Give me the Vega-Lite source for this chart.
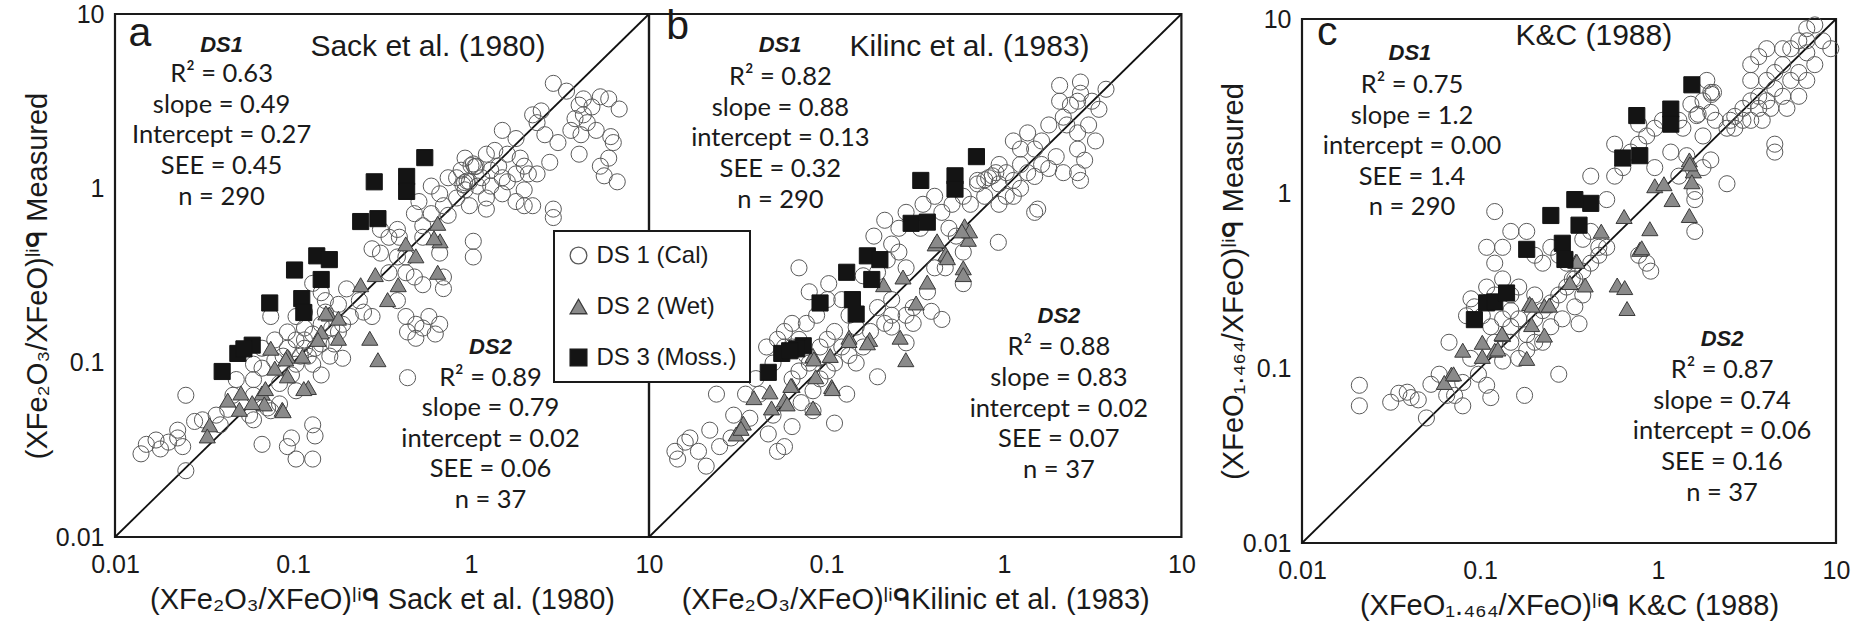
{
"$schema":"https://vega.github.io/schema/vega-lite/v6.json",
"background":"white",
"padding":{"left":22,"top":0,"right":0,"bottom":0},
"spacing":0,
"bounds":"flush",
"datasets":{
"diag":[{"x":0.01,"y":0.01},{"x":10,"y":10}],
"notes":[
{"p":"a","k":"lab","x":0.0138,"y":6.58,"t":"a"},
{"p":"a","k":"hdr","x":0.0397,"y":6.09,"t":"DS1"},
{"p":"a","k":"ttl","x":0.573,"y":5.78,"t":"Sack et al. (1980)"},
{"p":"a","k":"st","x":0.0397,"y":4.06,"t":"R² = 0.63\nslope = 0.49\nIntercept = 0.27\nSEE = 0.45\nn = 290"},
{"p":"a","k":"hdr","x":1.287,"y":0.112,"t":"DS2"},
{"p":"a","k":"st","x":1.287,"y":0.0738,"t":"R² = 0.89\nslope = 0.79\nintercept = 0.02\nSEE = 0.06\nn = 37"},
{"p":"b","k":"lab","x":0.0145,"y":7.18,"t":"b"},
{"p":"b","k":"hdr","x":0.0548,"y":6.09,"t":"DS1"},
{"p":"b","k":"ttl","x":0.64,"y":5.78,"t":"Kilinc et al. (1983)"},
{"p":"b","k":"st","x":0.055,"y":3.9,"t":"R² = 0.82\nslope = 0.88\nintercept = 0.13\nSEE = 0.32\nn = 290"},
{"p":"b","k":"hdr","x":2.04,"y":0.168,"t":"DS2"},
{"p":"b","k":"st","x":2.04,"y":0.11,"t":"R² = 0.88\nslope = 0.83\nintercept = 0.02\nSEE = 0.07\nn = 37"},
{"p":"c","k":"lab","x":0.01387,"y":7.13,"t":"c"},
{"p":"c","k":"hdr","x":0.0404,"y":5.79,"t":"DS1"},
{"p":"c","k":"ttl","x":0.436,"y":7.13,"t":"K&C (1988)"},
{"p":"c","k":"st","x":0.0415,"y":3.77,"t":"R² = 0.75\nslope = 1.2\nintercept = 0.00\nSEE = 1.4\nn = 290"},
{"p":"c","k":"hdr","x":2.29,"y":0.1336,"t":"DS2"},
{"p":"c","k":"st","x":2.29,"y":0.0879,"t":"R² = 0.87\nslope = 0.74\nintercept = 0.06\nSEE = 0.16\nn = 37"}
],
"pts":[
{"p":"a","s":"DS 1 (Cal)","x":0.014,"y":0.03},{"p":"a","s":"DS 1 (Cal)","x":0.015,"y":0.034},{"p":"a","s":"DS 1 (Cal)","x":0.017,"y":0.036},{"p":"a","s":"DS 1 (Cal)","x":0.018,"y":0.032},{"p":"a","s":"DS 1 (Cal)","x":0.02,"y":0.035},{"p":"a","s":"DS 1 (Cal)","x":0.0225,"y":0.037},{"p":"a","s":"DS 1 (Cal)","x":0.024,"y":0.033},{"p":"a","s":"DS 1 (Cal)","x":0.025,"y":0.024},{"p":"a","s":"DS 1 (Cal)","x":0.025,"y":0.065},{"p":"a","s":"DS 1 (Cal)","x":0.028,"y":0.046},{"p":"a","s":"DS 1 (Cal)","x":0.0225,"y":0.041},{"p":"a","s":"DS 1 (Cal)","x":0.031,"y":0.047},{"p":"a","s":"DS 1 (Cal)","x":0.037,"y":0.05},{"p":"a","s":"DS 1 (Cal)","x":0.039,"y":0.044},{"p":"a","s":"DS 1 (Cal)","x":0.043,"y":0.054},{"p":"a","s":"DS 1 (Cal)","x":0.046,"y":0.065},{"p":"a","s":"DS 1 (Cal)","x":0.057,"y":0.05},{"p":"a","s":"DS 1 (Cal)","x":0.06,"y":0.065},{"p":"a","s":"DS 1 (Cal)","x":0.067,"y":0.034},{"p":"a","s":"DS 1 (Cal)","x":0.098,"y":0.037},{"p":"a","s":"DS 1 (Cal)","x":0.129,"y":0.044},{"p":"a","s":"DS 1 (Cal)","x":0.133,"y":0.038},{"p":"a","s":"DS 1 (Cal)","x":0.104,"y":0.028},{"p":"a","s":"DS 1 (Cal)","x":0.093,"y":0.033},{"p":"a","s":"DS 1 (Cal)","x":0.129,"y":0.028},{"p":"a","s":"DS 1 (Cal)","x":0.072,"y":0.055},{"p":"a","s":"DS 1 (Cal)","x":0.06,"y":0.047},{"p":"a","s":"DS 1 (Cal)","x":0.075,"y":0.053},{"p":"a","s":"DS 1 (Cal)","x":0.084,"y":0.058},
{"p":"a","s":"DS 1 (Cal)","x":0.067,"y":0.121},{"p":"a","s":"DS 1 (Cal)","x":0.079,"y":0.135},{"p":"a","s":"DS 1 (Cal)","x":0.093,"y":0.15},{"p":"a","s":"DS 1 (Cal)","x":0.116,"y":0.158},{"p":"a","s":"DS 1 (Cal)","x":0.129,"y":0.285},{"p":"a","s":"DS 1 (Cal)","x":0.144,"y":0.252},{"p":"a","s":"DS 1 (Cal)","x":0.152,"y":0.227},{"p":"a","s":"DS 1 (Cal)","x":0.2,"y":0.265},{"p":"a","s":"DS 1 (Cal)","x":0.21,"y":0.184},{"p":"a","s":"DS 1 (Cal)","x":0.18,"y":0.15},{"p":"a","s":"DS 1 (Cal)","x":0.144,"y":0.128},{"p":"a","s":"DS 1 (Cal)","x":0.116,"y":0.121},{"p":"a","s":"DS 1 (Cal)","x":0.104,"y":0.098},{"p":"a","s":"DS 1 (Cal)","x":0.129,"y":0.098},{"p":"a","s":"DS 1 (Cal)","x":0.144,"y":0.085},{"p":"a","s":"DS 1 (Cal)","x":0.098,"y":0.085},{"p":"a","s":"DS 1 (Cal)","x":0.084,"y":0.076},{"p":"a","s":"DS 1 (Cal)","x":0.104,"y":0.069},{"p":"a","s":"DS 1 (Cal)","x":0.17,"y":0.128},{"p":"a","s":"DS 1 (Cal)","x":0.19,"y":0.106},{"p":"a","s":"DS 1 (Cal)","x":0.161,"y":0.109},{"p":"a","s":"DS 1 (Cal)","x":0.079,"y":0.103},{"p":"a","s":"DS 1 (Cal)","x":0.067,"y":0.093},{"p":"a","s":"DS 1 (Cal)","x":0.06,"y":0.098},{"p":"a","s":"DS 1 (Cal)","x":0.048,"y":0.08},{"p":"a","s":"DS 1 (Cal)","x":0.06,"y":0.08},{"p":"a","s":"DS 1 (Cal)","x":0.104,"y":0.135},{"p":"a","s":"DS 1 (Cal)","x":0.116,"y":0.135},{"p":"a","s":"DS 1 (Cal)","x":0.11,"y":0.109},{"p":"a","s":"DS 1 (Cal)","x":0.122,"y":0.109},{"p":"a","s":"DS 1 (Cal)","x":0.133,"y":0.121},{"p":"a","s":"DS 1 (Cal)","x":0.104,"y":0.184},{"p":"a","s":"DS 1 (Cal)","x":0.093,"y":0.121},{"p":"a","s":"DS 1 (Cal)","x":0.088,"y":0.109},{"p":"a","s":"DS 1 (Cal)","x":0.144,"y":0.166},{"p":"a","s":"DS 1 (Cal)","x":0.129,"y":0.146},{"p":"a","s":"DS 1 (Cal)","x":0.165,"y":0.158},{"p":"a","s":"DS 1 (Cal)","x":0.19,"y":0.166},{"p":"a","s":"DS 1 (Cal)","x":0.152,"y":0.195},{"p":"a","s":"DS 1 (Cal)","x":0.116,"y":0.195},{"p":"a","s":"DS 1 (Cal)","x":0.075,"y":0.184},{"p":"a","s":"DS 1 (Cal)","x":0.18,"y":0.216},{"p":"a","s":"DS 1 (Cal)","x":0.249,"y":0.195},{"p":"a","s":"DS 1 (Cal)","x":0.278,"y":0.184},{"p":"a","s":"DS 1 (Cal)","x":0.236,"y":0.227},
{"p":"a","s":"DS 1 (Cal)","x":0.386,"y":0.227},{"p":"a","s":"DS 1 (Cal)","x":0.431,"y":0.184},{"p":"a","s":"DS 1 (Cal)","x":0.49,"y":0.166},{"p":"a","s":"DS 1 (Cal)","x":0.44,"y":0.15},{"p":"a","s":"DS 1 (Cal)","x":0.536,"y":0.158},{"p":"a","s":"DS 1 (Cal)","x":0.58,"y":0.184},{"p":"a","s":"DS 1 (Cal)","x":0.667,"y":0.166},{"p":"a","s":"DS 1 (Cal)","x":0.63,"y":0.146},{"p":"a","s":"DS 1 (Cal)","x":0.49,"y":0.138},{"p":"a","s":"DS 1 (Cal)","x":0.44,"y":0.082},{"p":"a","s":"DS 1 (Cal)","x":0.481,"y":0.31},{"p":"a","s":"DS 1 (Cal)","x":0.431,"y":0.328},{"p":"a","s":"DS 1 (Cal)","x":0.536,"y":0.28},{"p":"a","s":"DS 1 (Cal)","x":0.7,"y":0.266},{"p":"a","s":"DS 1 (Cal)","x":0.431,"y":0.404},{"p":"a","s":"DS 1 (Cal)","x":0.396,"y":0.524},{"p":"a","s":"DS 1 (Cal)","x":0.536,"y":0.524},{"p":"a","s":"DS 1 (Cal)","x":0.667,"y":0.425},{"p":"a","s":"DS 1 (Cal)","x":0.7,"y":0.31},{"p":"a","s":"DS 1 (Cal)","x":1.03,"y":0.497},{"p":"a","s":"DS 1 (Cal)","x":1.03,"y":0.404},{"p":"a","s":"DS 1 (Cal)","x":0.346,"y":0.328},{"p":"a","s":"DS 1 (Cal)","x":0.31,"y":0.425},{"p":"a","s":"DS 1 (Cal)","x":0.386,"y":0.404},{"p":"a","s":"DS 1 (Cal)","x":0.278,"y":0.45},{"p":"a","s":"DS 1 (Cal)","x":0.31,"y":0.581},{"p":"a","s":"DS 1 (Cal)","x":0.386,"y":0.581},{"p":"a","s":"DS 1 (Cal)","x":0.346,"y":0.524},
{"p":"a","s":"DS 1 (Cal)","x":0.536,"y":0.61},{"p":"a","s":"DS 1 (Cal)","x":0.598,"y":0.716},{"p":"a","s":"DS 1 (Cal)","x":0.7,"y":0.795},{"p":"a","s":"DS 1 (Cal)","x":0.744,"y":0.7},{"p":"a","s":"DS 1 (Cal)","x":0.83,"y":0.88},{"p":"a","s":"DS 1 (Cal)","x":0.926,"y":0.98},{"p":"a","s":"DS 1 (Cal)","x":0.667,"y":0.93},{"p":"a","s":"DS 1 (Cal)","x":1.15,"y":1.15},{"p":"a","s":"DS 1 (Cal)","x":1.29,"y":1.27},{"p":"a","s":"DS 1 (Cal)","x":1.43,"y":1.34},{"p":"a","s":"DS 1 (Cal)","x":1.6,"y":1.09},{"p":"a","s":"DS 1 (Cal)","x":1.22,"y":1.57},{"p":"a","s":"DS 1 (Cal)","x":1.36,"y":1.65},{"p":"a","s":"DS 1 (Cal)","x":1.6,"y":1.57},{"p":"a","s":"DS 1 (Cal)","x":1.89,"y":1.49},{"p":"a","s":"DS 1 (Cal)","x":1.79,"y":1.21},{"p":"a","s":"DS 1 (Cal)","x":2.1,"y":1.21},{"p":"a","s":"DS 1 (Cal)","x":1.99,"y":0.98},{"p":"a","s":"DS 1 (Cal)","x":1.79,"y":0.84},{"p":"a","s":"DS 1 (Cal)","x":2.22,"y":0.795},{"p":"a","s":"DS 1 (Cal)","x":2.9,"y":0.76},{"p":"a","s":"DS 1 (Cal)","x":2.9,"y":0.68},{"p":"a","s":"DS 1 (Cal)","x":2.77,"y":1.41},{"p":"a","s":"DS 1 (Cal)","x":3.08,"y":1.83},{"p":"a","s":"DS 1 (Cal)","x":2.6,"y":2.03},{"p":"a","s":"DS 1 (Cal)","x":2.35,"y":2.38},{"p":"a","s":"DS 1 (Cal)","x":2.22,"y":2.64},{"p":"a","s":"DS 1 (Cal)","x":2.48,"y":2.78},{"p":"a","s":"DS 1 (Cal)","x":1.79,"y":1.93},{"p":"a","s":"DS 1 (Cal)","x":1.5,"y":2.15},{"p":"a","s":"DS 1 (Cal)","x":3.64,"y":2.15},{"p":"a","s":"DS 1 (Cal)","x":3.84,"y":2.51},{"p":"a","s":"DS 1 (Cal)","x":4.28,"y":2.64},{"p":"a","s":"DS 1 (Cal)","x":4.78,"y":2.93},{"p":"a","s":"DS 1 (Cal)","x":4.28,"y":3.26},{"p":"a","s":"DS 1 (Cal)","x":3.44,"y":3.61},{"p":"a","s":"DS 1 (Cal)","x":2.9,"y":4.0},{"p":"a","s":"DS 1 (Cal)","x":4.05,"y":3.0},{"p":"a","s":"DS 1 (Cal)","x":5.33,"y":3.35},{"p":"a","s":"DS 1 (Cal)","x":5.94,"y":3.26},{"p":"a","s":"DS 1 (Cal)","x":6.8,"y":2.85},{"p":"a","s":"DS 1 (Cal)","x":4.5,"y":2.38},{"p":"a","s":"DS 1 (Cal)","x":5.05,"y":2.15},{"p":"a","s":"DS 1 (Cal)","x":4.15,"y":2.03},{"p":"a","s":"DS 1 (Cal)","x":4.05,"y":1.57},{"p":"a","s":"DS 1 (Cal)","x":6.1,"y":1.98},{"p":"a","s":"DS 1 (Cal)","x":6.3,"y":1.83},{"p":"a","s":"DS 1 (Cal)","x":5.94,"y":1.49},{"p":"a","s":"DS 1 (Cal)","x":5.33,"y":1.34},{"p":"a","s":"DS 1 (Cal)","x":5.6,"y":1.18},{"p":"a","s":"DS 1 (Cal)","x":6.63,"y":1.09},{"p":"a","s":"DS 1 (Cal)","x":0.88,"y":1.27},{"p":"a","s":"DS 1 (Cal)","x":0.744,"y":1.15},{"p":"a","s":"DS 1 (Cal)","x":0.598,"y":1.03},{"p":"a","s":"DS 1 (Cal)","x":0.51,"y":0.84},{"p":"a","s":"DS 1 (Cal)","x":0.481,"y":0.716},{"p":"a","s":"DS 1 (Cal)","x":1.09,"y":1.03},{"p":"a","s":"DS 1 (Cal)","x":1.29,"y":1.03},{"p":"a","s":"DS 1 (Cal)","x":1.22,"y":0.88},{"p":"a","s":"DS 1 (Cal)","x":1.5,"y":0.93},{"p":"a","s":"DS 1 (Cal)","x":0.98,"y":1.09},{"p":"a","s":"DS 1 (Cal)","x":1.07,"y":1.34},{"p":"a","s":"DS 1 (Cal)","x":0.926,"y":1.49},{"p":"a","s":"DS 1 (Cal)","x":0.83,"y":1.15},{"p":"a","s":"DS 1 (Cal)","x":1.5,"y":1.15},{"p":"a","s":"DS 1 (Cal)","x":1.99,"y":1.34},{"p":"a","s":"DS 1 (Cal)","x":2.35,"y":1.21},{"p":"a","s":"DS 1 (Cal)","x":0.98,"y":0.795},{"p":"a","s":"DS 1 (Cal)","x":1.22,"y":0.76},{"p":"a","s":"DS 1 (Cal)","x":1.99,"y":0.795},{"p":"a","s":"DS 1 (Cal)","x":0.92,"y":1.08},{"p":"a","s":"DS 1 (Cal)","x":0.95,"y":1.1},{"p":"a","s":"DS 1 (Cal)","x":0.9,"y":1.05},{"p":"a","s":"DS 1 (Cal)","x":1.0,"y":1.35},{"p":"a","s":"DS 1 (Cal)","x":1.03,"y":1.38},{"p":"a","s":"DS 1 (Cal)","x":1.05,"y":1.33},
{"p":"b","s":"DS 1 (Cal)","x":0.014,"y":0.031},{"p":"b","s":"DS 1 (Cal)","x":0.016,"y":0.035},{"p":"b","s":"DS 1 (Cal)","x":0.0145,"y":0.028},{"p":"b","s":"DS 1 (Cal)","x":0.017,"y":0.037},{"p":"b","s":"DS 1 (Cal)","x":0.019,"y":0.031},{"p":"b","s":"DS 1 (Cal)","x":0.022,"y":0.041},{"p":"b","s":"DS 1 (Cal)","x":0.021,"y":0.0255},{"p":"b","s":"DS 1 (Cal)","x":0.024,"y":0.066},{"p":"b","s":"DS 1 (Cal)","x":0.025,"y":0.033},{"p":"b","s":"DS 1 (Cal)","x":0.029,"y":0.037},{"p":"b","s":"DS 1 (Cal)","x":0.03,"y":0.05},{"p":"b","s":"DS 1 (Cal)","x":0.037,"y":0.048},{"p":"b","s":"DS 1 (Cal)","x":0.047,"y":0.039},{"p":"b","s":"DS 1 (Cal)","x":0.058,"y":0.033},{"p":"b","s":"DS 1 (Cal)","x":0.064,"y":0.043},{"p":"b","s":"DS 1 (Cal)","x":0.053,"y":0.031},{"p":"b","s":"DS 1 (Cal)","x":0.04,"y":0.081},{"p":"b","s":"DS 1 (Cal)","x":0.042,"y":0.066},{"p":"b","s":"DS 1 (Cal)","x":0.035,"y":0.066},{"p":"b","s":"DS 1 (Cal)","x":0.111,"y":0.045},{"p":"b","s":"DS 1 (Cal)","x":0.084,"y":0.053},{"p":"b","s":"DS 1 (Cal)","x":0.072,"y":0.059},{"p":"b","s":"DS 1 (Cal)","x":0.05,"y":0.05},{"p":"b","s":"DS 1 (Cal)","x":0.194,"y":0.083},{"p":"b","s":"DS 1 (Cal)","x":0.13,"y":0.066},
{"p":"b","s":"DS 1 (Cal)","x":0.046,"y":0.123},{"p":"b","s":"DS 1 (Cal)","x":0.053,"y":0.136},{"p":"b","s":"DS 1 (Cal)","x":0.058,"y":0.151},{"p":"b","s":"DS 1 (Cal)","x":0.064,"y":0.123},{"p":"b","s":"DS 1 (Cal)","x":0.07,"y":0.136},{"p":"b","s":"DS 1 (Cal)","x":0.077,"y":0.11},{"p":"b","s":"DS 1 (Cal)","x":0.092,"y":0.123},{"p":"b","s":"DS 1 (Cal)","x":0.101,"y":0.136},{"p":"b","s":"DS 1 (Cal)","x":0.111,"y":0.151},{"p":"b","s":"DS 1 (Cal)","x":0.122,"y":0.123},{"p":"b","s":"DS 1 (Cal)","x":0.134,"y":0.11},{"p":"b","s":"DS 1 (Cal)","x":0.147,"y":0.0995},{"p":"b","s":"DS 1 (Cal)","x":0.07,"y":0.0896},{"p":"b","s":"DS 1 (Cal)","x":0.101,"y":0.0896},{"p":"b","s":"DS 1 (Cal)","x":0.08,"y":0.0995},{"p":"b","s":"DS 1 (Cal)","x":0.111,"y":0.0995},{"p":"b","s":"DS 1 (Cal)","x":0.161,"y":0.123},{"p":"b","s":"DS 1 (Cal)","x":0.177,"y":0.151},{"p":"b","s":"DS 1 (Cal)","x":0.147,"y":0.16},{"p":"b","s":"DS 1 (Cal)","x":0.134,"y":0.187},{"p":"b","s":"DS 1 (Cal)","x":0.122,"y":0.23},{"p":"b","s":"DS 1 (Cal)","x":0.101,"y":0.23},{"p":"b","s":"DS 1 (Cal)","x":0.088,"y":0.187},{"p":"b","s":"DS 1 (Cal)","x":0.077,"y":0.168},{"p":"b","s":"DS 1 (Cal)","x":0.064,"y":0.168},{"p":"b","s":"DS 1 (Cal)","x":0.058,"y":0.123},{"p":"b","s":"DS 1 (Cal)","x":0.05,"y":0.0995},{"p":"b","s":"DS 1 (Cal)","x":0.092,"y":0.0807},{"p":"b","s":"DS 1 (Cal)","x":0.084,"y":0.069},{"p":"b","s":"DS 1 (Cal)","x":0.064,"y":0.0807},
{"p":"b","s":"DS 1 (Cal)","x":0.07,"y":0.35},{"p":"b","s":"DS 1 (Cal)","x":0.08,"y":0.255},{"p":"b","s":"DS 1 (Cal)","x":0.103,"y":0.284},{"p":"b","s":"DS 1 (Cal)","x":0.161,"y":0.315},{"p":"b","s":"DS 1 (Cal)","x":0.194,"y":0.33},{"p":"b","s":"DS 1 (Cal)","x":0.22,"y":0.388},{"p":"b","s":"DS 1 (Cal)","x":0.233,"y":0.479},{"p":"b","s":"DS 1 (Cal)","x":0.185,"y":0.532},{"p":"b","s":"DS 1 (Cal)","x":0.256,"y":0.431},{"p":"b","s":"DS 1 (Cal)","x":0.281,"y":0.35},{"p":"b","s":"DS 1 (Cal)","x":0.233,"y":0.23},{"p":"b","s":"DS 1 (Cal)","x":0.233,"y":0.187},{"p":"b","s":"DS 1 (Cal)","x":0.281,"y":0.187},{"p":"b","s":"DS 1 (Cal)","x":0.308,"y":0.168},{"p":"b","s":"DS 1 (Cal)","x":0.213,"y":0.168},{"p":"b","s":"DS 1 (Cal)","x":0.194,"y":0.207},{"p":"b","s":"DS 1 (Cal)","x":0.308,"y":0.207},{"p":"b","s":"DS 1 (Cal)","x":0.39,"y":0.197},{"p":"b","s":"DS 1 (Cal)","x":0.447,"y":0.177},{"p":"b","s":"DS 1 (Cal)","x":0.371,"y":0.255},{"p":"b","s":"DS 1 (Cal)","x":0.281,"y":0.13},{"p":"b","s":"DS 1 (Cal)","x":0.233,"y":0.16},
{"p":"b","s":"DS 1 (Cal)","x":0.338,"y":0.59},{"p":"b","s":"DS 1 (Cal)","x":0.447,"y":0.728},{"p":"b","s":"DS 1 (Cal)","x":0.49,"y":0.59},{"p":"b","s":"DS 1 (Cal)","x":0.538,"y":0.532},{"p":"b","s":"DS 1 (Cal)","x":0.467,"y":0.35},{"p":"b","s":"DS 1 (Cal)","x":0.59,"y":0.284},{"p":"b","s":"DS 1 (Cal)","x":0.407,"y":0.35},{"p":"b","s":"DS 1 (Cal)","x":0.59,"y":0.431},{"p":"b","s":"DS 1 (Cal)","x":0.93,"y":0.49},{"p":"b","s":"DS 1 (Cal)","x":0.51,"y":0.81},{"p":"b","s":"DS 1 (Cal)","x":0.59,"y":0.9},{"p":"b","s":"DS 1 (Cal)","x":0.647,"y":0.81},{"p":"b","s":"DS 1 (Cal)","x":0.407,"y":0.9},{"p":"b","s":"DS 1 (Cal)","x":0.35,"y":0.81},{"p":"b","s":"DS 1 (Cal)","x":0.256,"y":0.59},{"p":"b","s":"DS 1 (Cal)","x":0.213,"y":0.656},{"p":"b","s":"DS 1 (Cal)","x":0.281,"y":0.728},
{"p":"b","s":"DS 1 (Cal)","x":0.779,"y":0.9},{"p":"b","s":"DS 1 (Cal)","x":0.71,"y":1.06},{"p":"b","s":"DS 1 (Cal)","x":0.938,"y":1.06},{"p":"b","s":"DS 1 (Cal)","x":1.03,"y":1.23},{"p":"b","s":"DS 1 (Cal)","x":1.13,"y":1.11},{"p":"b","s":"DS 1 (Cal)","x":1.24,"y":1.0},{"p":"b","s":"DS 1 (Cal)","x":1.36,"y":1.23},{"p":"b","s":"DS 1 (Cal)","x":1.24,"y":1.37},{"p":"b","s":"DS 1 (Cal)","x":1.49,"y":1.17},{"p":"b","s":"DS 1 (Cal)","x":1.63,"y":1.37},{"p":"b","s":"DS 1 (Cal)","x":1.79,"y":1.3},{"p":"b","s":"DS 1 (Cal)","x":1.49,"y":0.728},{"p":"b","s":"DS 1 (Cal)","x":1.55,"y":0.76},{"p":"b","s":"DS 1 (Cal)","x":1.03,"y":0.9},{"p":"b","s":"DS 1 (Cal)","x":0.938,"y":0.81},{"p":"b","s":"DS 1 (Cal)","x":1.13,"y":0.9},{"p":"b","s":"DS 1 (Cal)","x":1.24,"y":1.68},{"p":"b","s":"DS 1 (Cal)","x":1.13,"y":1.87},{"p":"b","s":"DS 1 (Cal)","x":1.36,"y":2.08},{"p":"b","s":"DS 1 (Cal)","x":1.49,"y":1.68},{"p":"b","s":"DS 1 (Cal)","x":1.63,"y":1.87},{"p":"b","s":"DS 1 (Cal)","x":1.79,"y":2.31},{"p":"b","s":"DS 1 (Cal)","x":2.16,"y":2.56},{"p":"b","s":"DS 1 (Cal)","x":2.06,"y":3.16},{"p":"b","s":"DS 1 (Cal)","x":2.37,"y":3.0},{"p":"b","s":"DS 1 (Cal)","x":2.7,"y":3.51},{"p":"b","s":"DS 1 (Cal)","x":2.6,"y":3.16},{"p":"b","s":"DS 1 (Cal)","x":3.13,"y":3.16},{"p":"b","s":"DS 1 (Cal)","x":3.43,"y":2.84},{"p":"b","s":"DS 1 (Cal)","x":3.0,"y":2.31},{"p":"b","s":"DS 1 (Cal)","x":2.6,"y":2.08},{"p":"b","s":"DS 1 (Cal)","x":2.6,"y":1.68},{"p":"b","s":"DS 1 (Cal)","x":2.85,"y":1.45},{"p":"b","s":"DS 1 (Cal)","x":2.6,"y":1.23},{"p":"b","s":"DS 1 (Cal)","x":2.7,"y":1.11},{"p":"b","s":"DS 1 (Cal)","x":2.16,"y":1.23},{"p":"b","s":"DS 1 (Cal)","x":1.97,"y":1.52},{"p":"b","s":"DS 1 (Cal)","x":2.06,"y":3.89},{"p":"b","s":"DS 1 (Cal)","x":2.7,"y":4.07},{"p":"b","s":"DS 1 (Cal)","x":3.76,"y":3.7},{"p":"b","s":"DS 1 (Cal)","x":2.26,"y":2.31},{"p":"b","s":"DS 1 (Cal)","x":3.28,"y":1.87},{"p":"b","s":"DS 1 (Cal)","x":0.78,"y":1.12},{"p":"b","s":"DS 1 (Cal)","x":0.71,"y":1.11},{"p":"b","s":"DS 1 (Cal)","x":0.9,"y":1.23},{"p":"b","s":"DS 1 (Cal)","x":0.94,"y":1.37},{"p":"b","s":"DS 1 (Cal)","x":0.82,"y":1.15},{"p":"b","s":"DS 1 (Cal)","x":0.86,"y":1.18},
{"p":"c","s":"DS 1 (Cal)","x":0.021,"y":0.08},{"p":"c","s":"DS 1 (Cal)","x":0.021,"y":0.061},{"p":"c","s":"DS 1 (Cal)","x":0.0315,"y":0.064},{"p":"c","s":"DS 1 (Cal)","x":0.035,"y":0.072},{"p":"c","s":"DS 1 (Cal)","x":0.039,"y":0.073},{"p":"c","s":"DS 1 (Cal)","x":0.045,"y":0.066},{"p":"c","s":"DS 1 (Cal)","x":0.05,"y":0.052},{"p":"c","s":"DS 1 (Cal)","x":0.053,"y":0.081},{"p":"c","s":"DS 1 (Cal)","x":0.059,"y":0.0925},{"p":"c","s":"DS 1 (Cal)","x":0.067,"y":0.141},{"p":"c","s":"DS 1 (Cal)","x":0.072,"y":0.07},{"p":"c","s":"DS 1 (Cal)","x":0.08,"y":0.061},{"p":"c","s":"DS 1 (Cal)","x":0.109,"y":0.08},{"p":"c","s":"DS 1 (Cal)","x":0.115,"y":0.068},{"p":"c","s":"DS 1 (Cal)","x":0.178,"y":0.07},{"p":"c","s":"DS 1 (Cal)","x":0.08,"y":0.083},{"p":"c","s":"DS 1 (Cal)","x":0.098,"y":0.0925},{"p":"c","s":"DS 1 (Cal)","x":0.0887,"y":0.114},{"p":"c","s":"DS 1 (Cal)","x":0.134,"y":0.11},{"p":"c","s":"DS 1 (Cal)","x":0.277,"y":0.0925},{"p":"c","s":"DS 1 (Cal)","x":0.065,"y":0.07},{"p":"c","s":"DS 1 (Cal)","x":0.041,"y":0.068},
{"p":"c","s":"DS 1 (Cal)","x":0.089,"y":0.25},{"p":"c","s":"DS 1 (Cal)","x":0.093,"y":0.225},{"p":"c","s":"DS 1 (Cal)","x":0.084,"y":0.2},{"p":"c","s":"DS 1 (Cal)","x":0.103,"y":0.2},{"p":"c","s":"DS 1 (Cal)","x":0.115,"y":0.173},{"p":"c","s":"DS 1 (Cal)","x":0.134,"y":0.192},{"p":"c","s":"DS 1 (Cal)","x":0.149,"y":0.214},{"p":"c","s":"DS 1 (Cal)","x":0.149,"y":0.173},{"p":"c","s":"DS 1 (Cal)","x":0.165,"y":0.192},{"p":"c","s":"DS 1 (Cal)","x":0.183,"y":0.156},{"p":"c","s":"DS 1 (Cal)","x":0.203,"y":0.192},{"p":"c","s":"DS 1 (Cal)","x":0.225,"y":0.214},{"p":"c","s":"DS 1 (Cal)","x":0.25,"y":0.237},{"p":"c","s":"DS 1 (Cal)","x":0.277,"y":0.263},{"p":"c","s":"DS 1 (Cal)","x":0.307,"y":0.292},{"p":"c","s":"DS 1 (Cal)","x":0.341,"y":0.325},{"p":"c","s":"DS 1 (Cal)","x":0.378,"y":0.36},{"p":"c","s":"DS 1 (Cal)","x":0.419,"y":0.4},{"p":"c","s":"DS 1 (Cal)","x":0.465,"y":0.444},{"p":"c","s":"DS 1 (Cal)","x":0.515,"y":0.493},{"p":"c","s":"DS 1 (Cal)","x":0.203,"y":0.141},{"p":"c","s":"DS 1 (Cal)","x":0.25,"y":0.173},{"p":"c","s":"DS 1 (Cal)","x":0.29,"y":0.192},{"p":"c","s":"DS 1 (Cal)","x":0.341,"y":0.225},{"p":"c","s":"DS 1 (Cal)","x":0.36,"y":0.18},{"p":"c","s":"DS 1 (Cal)","x":0.225,"y":0.141},{"p":"c","s":"DS 1 (Cal)","x":0.183,"y":0.127},{"p":"c","s":"DS 1 (Cal)","x":0.149,"y":0.141},{"p":"c","s":"DS 1 (Cal)","x":0.121,"y":0.141},{"p":"c","s":"DS 1 (Cal)","x":0.165,"y":0.114},{"p":"c","s":"DS 1 (Cal)","x":0.203,"y":0.263},{"p":"c","s":"DS 1 (Cal)","x":0.165,"y":0.292},{"p":"c","s":"DS 1 (Cal)","x":0.134,"y":0.325},{"p":"c","s":"DS 1 (Cal)","x":0.149,"y":0.263},{"p":"c","s":"DS 1 (Cal)","x":0.121,"y":0.263},{"p":"c","s":"DS 1 (Cal)","x":0.109,"y":0.292},{"p":"c","s":"DS 1 (Cal)","x":0.121,"y":0.4},{"p":"c","s":"DS 1 (Cal)","x":0.134,"y":0.493},{"p":"c","s":"DS 1 (Cal)","x":0.109,"y":0.493},{"p":"c","s":"DS 1 (Cal)","x":0.121,"y":0.79},{"p":"c","s":"DS 1 (Cal)","x":0.149,"y":0.608},{"p":"c","s":"DS 1 (Cal)","x":0.183,"y":0.608},{"p":"c","s":"DS 1 (Cal)","x":0.203,"y":0.444},{"p":"c","s":"DS 1 (Cal)","x":0.225,"y":0.4},{"p":"c","s":"DS 1 (Cal)","x":0.25,"y":0.493},{"p":"c","s":"DS 1 (Cal)","x":0.277,"y":0.444},{"p":"c","s":"DS 1 (Cal)","x":0.307,"y":0.4},{"p":"c","s":"DS 1 (Cal)","x":0.378,"y":0.548},{"p":"c","s":"DS 1 (Cal)","x":0.419,"y":0.608},{"p":"c","s":"DS 1 (Cal)","x":0.465,"y":0.493},{"p":"c","s":"DS 1 (Cal)","x":0.33,"y":0.325},{"p":"c","s":"DS 1 (Cal)","x":0.378,"y":0.263},
{"p":"c","s":"DS 1 (Cal)","x":0.419,"y":1.26},{"p":"c","s":"DS 1 (Cal)","x":0.515,"y":0.925},{"p":"c","s":"DS 1 (Cal)","x":0.571,"y":1.26},{"p":"c","s":"DS 1 (Cal)","x":0.634,"y":1.41},{"p":"c","s":"DS 1 (Cal)","x":0.703,"y":1.73},{"p":"c","s":"DS 1 (Cal)","x":0.779,"y":1.92},{"p":"c","s":"DS 1 (Cal)","x":0.779,"y":2.5},{"p":"c","s":"DS 1 (Cal)","x":0.571,"y":1.92},{"p":"c","s":"DS 1 (Cal)","x":0.864,"y":2.14},{"p":"c","s":"DS 1 (Cal)","x":0.959,"y":2.37},{"p":"c","s":"DS 1 (Cal)","x":1.06,"y":2.63},{"p":"c","s":"DS 1 (Cal)","x":1.31,"y":2.63},{"p":"c","s":"DS 1 (Cal)","x":1.38,"y":2.37},{"p":"c","s":"DS 1 (Cal)","x":1.53,"y":3.25},{"p":"c","s":"DS 1 (Cal)","x":1.88,"y":4.45},{"p":"c","s":"DS 1 (Cal)","x":1.98,"y":3.8},{"p":"c","s":"DS 1 (Cal)","x":1.79,"y":3.4},{"p":"c","s":"DS 1 (Cal)","x":1.98,"y":2.92},{"p":"c","s":"DS 1 (Cal)","x":1.79,"y":2.14},{"p":"c","s":"DS 1 (Cal)","x":2.1,"y":2.63},{"p":"c","s":"DS 1 (Cal)","x":1.18,"y":1.73},{"p":"c","s":"DS 1 (Cal)","x":1.45,"y":1.65},{"p":"c","s":"DS 1 (Cal)","x":1.79,"y":1.41},{"p":"c","s":"DS 1 (Cal)","x":1.98,"y":1.56},{"p":"c","s":"DS 1 (Cal)","x":2.44,"y":1.14},{"p":"c","s":"DS 1 (Cal)","x":1.31,"y":1.26},{"p":"c","s":"DS 1 (Cal)","x":0.959,"y":1.41},{"p":"c","s":"DS 1 (Cal)","x":1.61,"y":0.925},{"p":"c","s":"DS 1 (Cal)","x":1.61,"y":0.608},{"p":"c","s":"DS 1 (Cal)","x":0.91,"y":0.36},{"p":"c","s":"DS 1 (Cal)","x":0.864,"y":0.4},{"p":"c","s":"DS 1 (Cal)","x":0.779,"y":0.444},{"p":"c","s":"DS 1 (Cal)","x":1.61,"y":1.03},
{"p":"c","s":"DS 1 (Cal)","x":2.55,"y":2.63},{"p":"c","s":"DS 1 (Cal)","x":2.7,"y":2.37},{"p":"c","s":"DS 1 (Cal)","x":3.0,"y":2.63},{"p":"c","s":"DS 1 (Cal)","x":3.0,"y":3.08},{"p":"c","s":"DS 1 (Cal)","x":3.32,"y":3.4},{"p":"c","s":"DS 1 (Cal)","x":3.68,"y":3.61},{"p":"c","s":"DS 1 (Cal)","x":3.68,"y":3.08},{"p":"c","s":"DS 1 (Cal)","x":4.08,"y":3.4},{"p":"c","s":"DS 1 (Cal)","x":3.32,"y":4.45},{"p":"c","s":"DS 1 (Cal)","x":4.08,"y":4.45},{"p":"c","s":"DS 1 (Cal)","x":4.53,"y":4.94},{"p":"c","s":"DS 1 (Cal)","x":5.02,"y":5.48},{"p":"c","s":"DS 1 (Cal)","x":4.53,"y":4.0},{"p":"c","s":"DS 1 (Cal)","x":5.57,"y":4.45},{"p":"c","s":"DS 1 (Cal)","x":6.18,"y":4.94},{"p":"c","s":"DS 1 (Cal)","x":6.85,"y":4.45},{"p":"c","s":"DS 1 (Cal)","x":7.6,"y":5.48},{"p":"c","s":"DS 1 (Cal)","x":5.57,"y":6.76},{"p":"c","s":"DS 1 (Cal)","x":6.18,"y":7.5},{"p":"c","s":"DS 1 (Cal)","x":6.85,"y":8.8},{"p":"c","s":"DS 1 (Cal)","x":7.6,"y":9.25},{"p":"c","s":"DS 1 (Cal)","x":8.43,"y":7.5},{"p":"c","s":"DS 1 (Cal)","x":9.35,"y":6.76},{"p":"c","s":"DS 1 (Cal)","x":6.85,"y":6.4},{"p":"c","s":"DS 1 (Cal)","x":5.02,"y":6.76},{"p":"c","s":"DS 1 (Cal)","x":3.68,"y":6.09},{"p":"c","s":"DS 1 (Cal)","x":3.32,"y":5.48},{"p":"c","s":"DS 1 (Cal)","x":4.08,"y":6.76},{"p":"c","s":"DS 1 (Cal)","x":5.02,"y":3.61},{"p":"c","s":"DS 1 (Cal)","x":4.3,"y":3.08},{"p":"c","s":"DS 1 (Cal)","x":6.18,"y":3.61},{"p":"c","s":"DS 1 (Cal)","x":5.3,"y":3.08},{"p":"c","s":"DS 1 (Cal)","x":4.53,"y":1.92},{"p":"c","s":"DS 1 (Cal)","x":4.53,"y":1.73},{"p":"c","s":"DS 1 (Cal)","x":3.32,"y":2.63},{"p":"c","s":"DS 1 (Cal)","x":2.44,"y":2.37},{"p":"c","s":"DS 1 (Cal)","x":2.7,"y":2.77},{"p":"c","s":"DS 1 (Cal)","x":3.85,"y":2.63},{"p":"c","s":"DS 1 (Cal)","x":6.85,"y":7.5},{"p":"c","s":"DS 1 (Cal)","x":2.05,"y":3.8},{"p":"c","s":"DS 1 (Cal)","x":2.0,"y":3.7},{"p":"c","s":"DS 1 (Cal)","x":1.65,"y":2.8},{"p":"c","s":"DS 1 (Cal)","x":1.68,"y":2.85},
{"p":"a","s":"DS 2 (Wet)","x":0.65,"y":0.63},{"p":"a","s":"DS 2 (Wet)","x":0.67,"y":0.5},{"p":"a","s":"DS 2 (Wet)","x":0.43,"y":0.48},{"p":"a","s":"DS 2 (Wet)","x":0.49,"y":0.41},{"p":"a","s":"DS 2 (Wet)","x":0.65,"y":0.33},{"p":"a","s":"DS 2 (Wet)","x":0.29,"y":0.32},{"p":"a","s":"DS 2 (Wet)","x":0.24,"y":0.28},{"p":"a","s":"DS 2 (Wet)","x":0.39,"y":0.28},{"p":"a","s":"DS 2 (Wet)","x":0.34,"y":0.23},{"p":"a","s":"DS 2 (Wet)","x":0.16,"y":0.19},{"p":"a","s":"DS 2 (Wet)","x":0.18,"y":0.18},{"p":"a","s":"DS 2 (Wet)","x":0.144,"y":0.15},{"p":"a","s":"DS 2 (Wet)","x":0.18,"y":0.138},{"p":"a","s":"DS 2 (Wet)","x":0.27,"y":0.138},{"p":"a","s":"DS 2 (Wet)","x":0.3,"y":0.104},{"p":"a","s":"DS 2 (Wet)","x":0.075,"y":0.121},{"p":"a","s":"DS 2 (Wet)","x":0.093,"y":0.109},{"p":"a","s":"DS 2 (Wet)","x":0.113,"y":0.109},{"p":"a","s":"DS 2 (Wet)","x":0.079,"y":0.093},{"p":"a","s":"DS 2 (Wet)","x":0.093,"y":0.084},{"p":"a","s":"DS 2 (Wet)","x":0.122,"y":0.072},{"p":"a","s":"DS 2 (Wet)","x":0.067,"y":0.067},{"p":"a","s":"DS 2 (Wet)","x":0.051,"y":0.067},{"p":"a","s":"DS 2 (Wet)","x":0.043,"y":0.061},{"p":"a","s":"DS 2 (Wet)","x":0.05,"y":0.054},{"p":"a","s":"DS 2 (Wet)","x":0.069,"y":0.058},{"p":"a","s":"DS 2 (Wet)","x":0.087,"y":0.054},{"p":"a","s":"DS 2 (Wet)","x":0.034,"y":0.044},{"p":"a","s":"DS 2 (Wet)","x":0.033,"y":0.038},{"p":"a","s":"DS 2 (Wet)","x":0.62,"y":0.52},{"p":"a","s":"DS 2 (Wet)","x":0.153,"y":0.193},{"p":"a","s":"DS 2 (Wet)","x":0.138,"y":0.136},{"p":"a","s":"DS 2 (Wet)","x":0.07,"y":0.071},{"p":"a","s":"DS 2 (Wet)","x":0.088,"y":0.053},{"p":"a","s":"DS 2 (Wet)","x":0.115,"y":0.071},{"p":"a","s":"DS 2 (Wet)","x":0.059,"y":0.059},{"p":"a","s":"DS 2 (Wet)","x":0.091,"y":0.105},
{"p":"b","s":"DS 2 (Wet)","x":0.6,"y":0.61},{"p":"b","s":"DS 2 (Wet)","x":0.63,"y":0.51},{"p":"b","s":"DS 2 (Wet)","x":0.64,"y":0.57},{"p":"b","s":"DS 2 (Wet)","x":0.41,"y":0.48},{"p":"b","s":"DS 2 (Wet)","x":0.47,"y":0.42},{"p":"b","s":"DS 2 (Wet)","x":0.59,"y":0.35},{"p":"b","s":"DS 2 (Wet)","x":0.27,"y":0.31},{"p":"b","s":"DS 2 (Wet)","x":0.37,"y":0.29},{"p":"b","s":"DS 2 (Wet)","x":0.21,"y":0.28},{"p":"b","s":"DS 2 (Wet)","x":0.32,"y":0.22},{"p":"b","s":"DS 2 (Wet)","x":0.26,"y":0.14},{"p":"b","s":"DS 2 (Wet)","x":0.175,"y":0.136},{"p":"b","s":"DS 2 (Wet)","x":0.134,"y":0.14},{"p":"b","s":"DS 2 (Wet)","x":0.28,"y":0.104},{"p":"b","s":"DS 2 (Wet)","x":0.084,"y":0.11},{"p":"b","s":"DS 2 (Wet)","x":0.105,"y":0.11},{"p":"b","s":"DS 2 (Wet)","x":0.087,"y":0.083},{"p":"b","s":"DS 2 (Wet)","x":0.107,"y":0.073},{"p":"b","s":"DS 2 (Wet)","x":0.064,"y":0.074},{"p":"b","s":"DS 2 (Wet)","x":0.048,"y":0.068},{"p":"b","s":"DS 2 (Wet)","x":0.058,"y":0.061},{"p":"b","s":"DS 2 (Wet)","x":0.049,"y":0.055},{"p":"b","s":"DS 2 (Wet)","x":0.084,"y":0.055},{"p":"b","s":"DS 2 (Wet)","x":0.034,"y":0.045},{"p":"b","s":"DS 2 (Wet)","x":0.031,"y":0.039},{"p":"b","s":"DS 2 (Wet)","x":0.58,"y":0.57},{"p":"b","s":"DS 2 (Wet)","x":0.48,"y":0.4},{"p":"b","s":"DS 2 (Wet)","x":0.59,"y":0.32},{"p":"b","s":"DS 2 (Wet)","x":0.134,"y":0.134},{"p":"b","s":"DS 2 (Wet)","x":0.17,"y":0.13},{"p":"b","s":"DS 2 (Wet)","x":0.085,"y":0.105},{"p":"b","s":"DS 2 (Wet)","x":0.108,"y":0.071},{"p":"b","s":"DS 2 (Wet)","x":0.063,"y":0.074},{"p":"b","s":"DS 2 (Wet)","x":0.039,"y":0.063},{"p":"b","s":"DS 2 (Wet)","x":0.06,"y":0.058},{"p":"b","s":"DS 2 (Wet)","x":0.033,"y":0.042},{"p":"b","s":"DS 2 (Wet)","x":0.42,"y":0.5},
{"p":"c","s":"DS 2 (Wet)","x":1.5,"y":1.56},{"p":"c","s":"DS 2 (Wet)","x":1.58,"y":1.35},{"p":"c","s":"DS 2 (Wet)","x":1.55,"y":1.17},{"p":"c","s":"DS 2 (Wet)","x":0.959,"y":1.11},{"p":"c","s":"DS 2 (Wet)","x":1.08,"y":1.14},{"p":"c","s":"DS 2 (Wet)","x":1.2,"y":0.925},{"p":"c","s":"DS 2 (Wet)","x":1.5,"y":0.75},{"p":"c","s":"DS 2 (Wet)","x":0.645,"y":0.74},{"p":"c","s":"DS 2 (Wet)","x":0.9,"y":0.63},{"p":"c","s":"DS 2 (Wet)","x":0.48,"y":0.61},{"p":"c","s":"DS 2 (Wet)","x":0.79,"y":0.48},{"p":"c","s":"DS 2 (Wet)","x":0.345,"y":0.41},{"p":"c","s":"DS 2 (Wet)","x":0.59,"y":0.3},{"p":"c","s":"DS 2 (Wet)","x":0.67,"y":0.22},{"p":"c","s":"DS 2 (Wet)","x":0.39,"y":0.3},{"p":"c","s":"DS 2 (Wet)","x":0.32,"y":0.31},{"p":"c","s":"DS 2 (Wet)","x":0.19,"y":0.235},{"p":"c","s":"DS 2 (Wet)","x":0.23,"y":0.228},{"p":"c","s":"DS 2 (Wet)","x":0.195,"y":0.178},{"p":"c","s":"DS 2 (Wet)","x":0.23,"y":0.155},{"p":"c","s":"DS 2 (Wet)","x":0.134,"y":0.156},{"p":"c","s":"DS 2 (Wet)","x":0.103,"y":0.141},{"p":"c","s":"DS 2 (Wet)","x":0.121,"y":0.127},{"p":"c","s":"DS 2 (Wet)","x":0.103,"y":0.117},{"p":"c","s":"DS 2 (Wet)","x":0.08,"y":0.127},{"p":"c","s":"DS 2 (Wet)","x":0.183,"y":0.114},{"p":"c","s":"DS 2 (Wet)","x":0.069,"y":0.0925},{"p":"c","s":"DS 2 (Wet)","x":0.063,"y":0.083},{"p":"c","s":"DS 2 (Wet)","x":0.65,"y":0.29},{"p":"c","s":"DS 2 (Wet)","x":0.81,"y":0.49},{"p":"c","s":"DS 2 (Wet)","x":0.35,"y":0.41},{"p":"c","s":"DS 2 (Wet)","x":0.196,"y":0.23},{"p":"c","s":"DS 2 (Wet)","x":0.245,"y":0.23},{"p":"c","s":"DS 2 (Wet)","x":0.133,"y":0.158},{"p":"c","s":"DS 2 (Wet)","x":0.126,"y":0.129},{"p":"c","s":"DS 2 (Wet)","x":0.071,"y":0.093},{"p":"c","s":"DS 2 (Wet)","x":1.51,"y":1.48},
{"p":"a","s":"DS 3 (Moss.)","x":0.55,"y":1.5},{"p":"a","s":"DS 3 (Moss.)","x":0.286,"y":1.09},{"p":"a","s":"DS 3 (Moss.)","x":0.435,"y":1.17},{"p":"a","s":"DS 3 (Moss.)","x":0.435,"y":0.96},{"p":"a","s":"DS 3 (Moss.)","x":0.24,"y":0.645},{"p":"a","s":"DS 3 (Moss.)","x":0.3,"y":0.67},{"p":"a","s":"DS 3 (Moss.)","x":0.136,"y":0.41},{"p":"a","s":"DS 3 (Moss.)","x":0.16,"y":0.39},{"p":"a","s":"DS 3 (Moss.)","x":0.102,"y":0.34},{"p":"a","s":"DS 3 (Moss.)","x":0.144,"y":0.3},{"p":"a","s":"DS 3 (Moss.)","x":0.074,"y":0.22},{"p":"a","s":"DS 3 (Moss.)","x":0.112,"y":0.233},{"p":"a","s":"DS 3 (Moss.)","x":0.115,"y":0.194},{"p":"a","s":"DS 3 (Moss.)","x":0.059,"y":0.126},{"p":"a","s":"DS 3 (Moss.)","x":0.049,"y":0.113},{"p":"a","s":"DS 3 (Moss.)","x":0.04,"y":0.089},{"p":"a","s":"DS 3 (Moss.)","x":0.053,"y":0.12},
{"p":"b","s":"DS 3 (Moss.)","x":0.7,"y":1.52},{"p":"b","s":"DS 3 (Moss.)","x":0.34,"y":1.11},{"p":"b","s":"DS 3 (Moss.)","x":0.53,"y":1.18},{"p":"b","s":"DS 3 (Moss.)","x":0.53,"y":0.99},{"p":"b","s":"DS 3 (Moss.)","x":0.3,"y":0.63},{"p":"b","s":"DS 3 (Moss.)","x":0.37,"y":0.64},{"p":"b","s":"DS 3 (Moss.)","x":0.17,"y":0.41},{"p":"b","s":"DS 3 (Moss.)","x":0.2,"y":0.39},{"p":"b","s":"DS 3 (Moss.)","x":0.13,"y":0.33},{"p":"b","s":"DS 3 (Moss.)","x":0.18,"y":0.3},{"p":"b","s":"DS 3 (Moss.)","x":0.092,"y":0.22},{"p":"b","s":"DS 3 (Moss.)","x":0.14,"y":0.23},{"p":"b","s":"DS 3 (Moss.)","x":0.147,"y":0.19},{"p":"b","s":"DS 3 (Moss.)","x":0.074,"y":0.125},{"p":"b","s":"DS 3 (Moss.)","x":0.056,"y":0.113},{"p":"b","s":"DS 3 (Moss.)","x":0.047,"y":0.088},{"p":"b","s":"DS 3 (Moss.)","x":0.068,"y":0.12},{"p":"b","s":"DS 3 (Moss.)","x":0.062,"y":0.117},
{"p":"c","s":"DS 3 (Moss.)","x":1.55,"y":4.2},{"p":"c","s":"DS 3 (Moss.)","x":0.76,"y":2.8},{"p":"c","s":"DS 3 (Moss.)","x":1.18,"y":3.05},{"p":"c","s":"DS 3 (Moss.)","x":1.18,"y":2.5},{"p":"c","s":"DS 3 (Moss.)","x":0.634,"y":1.6},{"p":"c","s":"DS 3 (Moss.)","x":0.79,"y":1.65},{"p":"c","s":"DS 3 (Moss.)","x":0.341,"y":0.925},{"p":"c","s":"DS 3 (Moss.)","x":0.419,"y":0.88},{"p":"c","s":"DS 3 (Moss.)","x":0.25,"y":0.75},{"p":"c","s":"DS 3 (Moss.)","x":0.36,"y":0.66},{"p":"c","s":"DS 3 (Moss.)","x":0.183,"y":0.48},{"p":"c","s":"DS 3 (Moss.)","x":0.29,"y":0.52},{"p":"c","s":"DS 3 (Moss.)","x":0.3,"y":0.42},{"p":"c","s":"DS 3 (Moss.)","x":0.109,"y":0.237},{"p":"c","s":"DS 3 (Moss.)","x":0.121,"y":0.24},{"p":"c","s":"DS 3 (Moss.)","x":0.141,"y":0.27},{"p":"c","s":"DS 3 (Moss.)","x":0.093,"y":0.19}
]
},
"hconcat":[
{"width":534,"height":523,"layer":[
{"data":{"name":"diag"},"mark":{"type":"line","color":"#111","strokeWidth":1.8},"encoding":{
"x":{"field":"x","type":"quantitative","scale":{"type":"log","domain":[0.01,10],"nice":false},"axis":{"values":[0.01,0.1,1,10],"format":"~g","title":"(XFe₂O₃/XFeO)ˡⁱᑫ Sack et al. (1980)"}},
"y":{"field":"y","type":"quantitative","scale":{"type":"log","domain":[0.01,10],"nice":false},"axis":{"values":[0.01,0.1,1,10],"format":"~g","title":"(XFe₂O₃/XFeO)ˡⁱᑫ Measured","titlePadding":3}}}},
{"data":{"name":"pts"},"transform":[{"filter":"datum.p==='a'"}],"mark":{"type":"point","opacity":1,"strokeWidth":1},"encoding":{
"x":{"field":"x","type":"quantitative"},"y":{"field":"y","type":"quantitative"},
"shape":{"field":"s","type":"nominal","scale":{"domain":["DS 1 (Cal)","DS 2 (Wet)","DS 3 (Moss.)"],"range":["circle","triangle-up","square"]},"legend":{"orient":"none","legendX":439,"legendY":217,"title":null}},
"fill":{"field":"s","type":"nominal","scale":{"domain":["DS 1 (Cal)","DS 2 (Wet)","DS 3 (Moss.)"],"range":["transparent","#8a8a8a","#141414"]},"legend":{"orient":"none","legendX":439,"legendY":217,"title":null}},
"stroke":{"field":"s","type":"nominal","scale":{"domain":["DS 1 (Cal)","DS 2 (Wet)","DS 3 (Moss.)"],"range":["#5a5a5a","#3a3a3a","#141414"]},"legend":{"orient":"none","legendX":439,"legendY":217,"title":null}},
"size":{"value":260}}},
{"data":{"name":"notes"},"transform":[{"filter":"datum.p==='a' && datum.k==='lab'"}],"mark":{"type":"text","font":"Liberation Sans","fontSize":41,"baseline":"alphabetic","align":"center","color":"#1a1a1a"},"encoding":{"x":{"field":"x","type":"quantitative"},"y":{"field":"y","type":"quantitative"},"text":{"field":"t"}}},
{"data":{"name":"notes"},"transform":[{"filter":"datum.p==='a' && datum.k==='hdr'"}],"mark":{"type":"text","font":"Liberation Sans","fontSize":22,"fontWeight":"bold","fontStyle":"italic","baseline":"alphabetic","align":"center","color":"#1a1a1a"},"encoding":{"x":{"field":"x","type":"quantitative"},"y":{"field":"y","type":"quantitative"},"text":{"field":"t"}}},
{"data":{"name":"notes"},"transform":[{"filter":"datum.p==='a' && datum.k==='ttl'"}],"mark":{"type":"text","font":"Liberation Sans","fontSize":30,"baseline":"alphabetic","align":"center","color":"#1a1a1a"},"encoding":{"x":{"field":"x","type":"quantitative"},"y":{"field":"y","type":"quantitative"},"text":{"field":"t"}}},
{"data":{"name":"notes"},"transform":[{"filter":"datum.p==='a' && datum.k==='st'"}],"mark":{"type":"text","font":"Lato","fontSize":25.5,"lineHeight":30.6,"lineBreak":"\n","baseline":"alphabetic","align":"center","color":"#1a1a1a"},"encoding":{"x":{"field":"x","type":"quantitative"},"y":{"field":"y","type":"quantitative"},"text":{"field":"t"}}}
]},
{"width":532.4,"height":523,"layer":[
{"data":{"name":"diag"},"mark":{"type":"line","color":"#111","strokeWidth":1.8},"encoding":{
"x":{"field":"x","type":"quantitative","scale":{"type":"log","domain":[0.01,10],"nice":false},"axis":{"values":[0.1,1,10],"format":"~g","title":"(XFe₂O₃/XFeO)ˡⁱᑫKilinic et al. (1983)"}},
"y":{"field":"y","type":"quantitative","scale":{"type":"log","domain":[0.01,10],"nice":false},"axis":null}}},
{"data":{"name":"pts"},"transform":[{"filter":"datum.p==='b'"}],"mark":{"type":"point","opacity":1,"strokeWidth":1},"encoding":{
"x":{"field":"x","type":"quantitative"},"y":{"field":"y","type":"quantitative"},
"shape":{"field":"s","type":"nominal","scale":{"domain":["DS 1 (Cal)","DS 2 (Wet)","DS 3 (Moss.)"],"range":["circle","triangle-up","square"]},"legend":{"orient":"none","legendX":439,"legendY":217,"title":null}},
"fill":{"field":"s","type":"nominal","scale":{"domain":["DS 1 (Cal)","DS 2 (Wet)","DS 3 (Moss.)"],"range":["transparent","#8a8a8a","#141414"]},"legend":{"orient":"none","legendX":439,"legendY":217,"title":null}},
"stroke":{"field":"s","type":"nominal","scale":{"domain":["DS 1 (Cal)","DS 2 (Wet)","DS 3 (Moss.)"],"range":["#5a5a5a","#3a3a3a","#141414"]},"legend":{"orient":"none","legendX":439,"legendY":217,"title":null}},
"size":{"value":260}}},
{"data":{"name":"notes"},"transform":[{"filter":"datum.p==='b' && datum.k==='lab'"}],"mark":{"type":"text","font":"Liberation Sans","fontSize":41,"baseline":"alphabetic","align":"center","color":"#1a1a1a"},"encoding":{"x":{"field":"x","type":"quantitative"},"y":{"field":"y","type":"quantitative"},"text":{"field":"t"}}},
{"data":{"name":"notes"},"transform":[{"filter":"datum.p==='b' && datum.k==='hdr'"}],"mark":{"type":"text","font":"Liberation Sans","fontSize":22,"fontWeight":"bold","fontStyle":"italic","baseline":"alphabetic","align":"center","color":"#1a1a1a"},"encoding":{"x":{"field":"x","type":"quantitative"},"y":{"field":"y","type":"quantitative"},"text":{"field":"t"}}},
{"data":{"name":"notes"},"transform":[{"filter":"datum.p==='b' && datum.k==='ttl'"}],"mark":{"type":"text","font":"Liberation Sans","fontSize":30,"baseline":"alphabetic","align":"center","color":"#1a1a1a"},"encoding":{"x":{"field":"x","type":"quantitative"},"y":{"field":"y","type":"quantitative"},"text":{"field":"t"}}},
{"data":{"name":"notes"},"transform":[{"filter":"datum.p==='b' && datum.k==='st'"}],"mark":{"type":"text","font":"Lato","fontSize":25.5,"lineHeight":30.6,"lineBreak":"\n","baseline":"alphabetic","align":"center","color":"#1a1a1a"},"encoding":{"x":{"field":"x","type":"quantitative"},"y":{"field":"y","type":"quantitative"},"text":{"field":"t"}}}
]},
{"width":119.3,"height":523,"data":{"values":[]},"mark":"point","view":{"stroke":null}},
{"spacing":0,"bounds":"flush","vconcat":[
{"width":534,"height":4.7,"data":{"values":[]},"mark":"point","view":{"stroke":null}},
{"width":534,"height":524,"layer":[
{"data":{"name":"diag"},"mark":{"type":"line","color":"#111","strokeWidth":1.8},"encoding":{
"x":{"field":"x","type":"quantitative","scale":{"type":"log","domain":[0.01,10],"nice":false},"axis":{"values":[0.01,0.1,1,10],"format":"~g","title":"(XFeO₁.₄₆₄/XFeO)ˡⁱᑫ K&C (1988)"}},
"y":{"field":"y","type":"quantitative","scale":{"type":"log","domain":[0.01,10],"nice":false},"axis":{"values":[0.01,0.1,1,10],"format":"~g","title":"(XFeO₁.₄₆₄/XFeO)ˡⁱᑫ Measured","titlePadding":-6}}}},
{"data":{"name":"pts"},"transform":[{"filter":"datum.p==='c'"}],"mark":{"type":"point","opacity":1,"strokeWidth":1},"encoding":{
"x":{"field":"x","type":"quantitative"},"y":{"field":"y","type":"quantitative"},
"shape":{"field":"s","type":"nominal","scale":{"domain":["DS 1 (Cal)","DS 2 (Wet)","DS 3 (Moss.)"],"range":["circle","triangle-up","square"]},"legend":{"orient":"none","legendX":439,"legendY":217,"title":null}},
"fill":{"field":"s","type":"nominal","scale":{"domain":["DS 1 (Cal)","DS 2 (Wet)","DS 3 (Moss.)"],"range":["transparent","#8a8a8a","#141414"]},"legend":{"orient":"none","legendX":439,"legendY":217,"title":null}},
"stroke":{"field":"s","type":"nominal","scale":{"domain":["DS 1 (Cal)","DS 2 (Wet)","DS 3 (Moss.)"],"range":["#5a5a5a","#3a3a3a","#141414"]},"legend":{"orient":"none","legendX":439,"legendY":217,"title":null}},
"size":{"value":260}}},
{"data":{"name":"notes"},"transform":[{"filter":"datum.p==='c' && datum.k==='lab'"}],"mark":{"type":"text","font":"Liberation Sans","fontSize":41,"baseline":"alphabetic","align":"center","color":"#1a1a1a"},"encoding":{"x":{"field":"x","type":"quantitative"},"y":{"field":"y","type":"quantitative"},"text":{"field":"t"}}},
{"data":{"name":"notes"},"transform":[{"filter":"datum.p==='c' && datum.k==='hdr'"}],"mark":{"type":"text","font":"Liberation Sans","fontSize":22,"fontWeight":"bold","fontStyle":"italic","baseline":"alphabetic","align":"center","color":"#1a1a1a"},"encoding":{"x":{"field":"x","type":"quantitative"},"y":{"field":"y","type":"quantitative"},"text":{"field":"t"}}},
{"data":{"name":"notes"},"transform":[{"filter":"datum.p==='c' && datum.k==='ttl'"}],"mark":{"type":"text","font":"Liberation Sans","fontSize":30,"baseline":"alphabetic","align":"center","color":"#1a1a1a"},"encoding":{"x":{"field":"x","type":"quantitative"},"y":{"field":"y","type":"quantitative"},"text":{"field":"t"}}},
{"data":{"name":"notes"},"transform":[{"filter":"datum.p==='c' && datum.k==='st'"}],"mark":{"type":"text","font":"Lato","fontSize":25.5,"lineHeight":30.6,"lineBreak":"\n","baseline":"alphabetic","align":"center","color":"#1a1a1a"},"encoding":{"x":{"field":"x","type":"quantitative"},"y":{"field":"y","type":"quantitative"},"text":{"field":"t"}}}
]}
]}
],
"config":{
"view":{"stroke":"#1a1a1a","strokeWidth":2.2},
"axis":{"grid":false,"domain":false,"ticks":false,"tickSize":0,"labelFont":"Liberation Sans","labelFontSize":25,"labelColor":"#1a1a1a","titleFont":"Liberation Sans","titleFontSize":29,"titleFontWeight":"normal","titleColor":"#1a1a1a","labelFlush":false,"labelOverlap":false},
"axisX":{"labelPadding":15,"titlePadding":8},
"axisY":{"labelPadding":11},
"legend":{"strokeColor":"#1a1a1a","strokeWidth":2,"fillColor":"white","padding":12.5,"rowPadding":27,"labelFont":"Liberation Sans","labelFontSize":24,"labelColor":"#1a1a1a","symbolSize":280,"symbolStrokeWidth":1.3,"labelOffset":6}
}
}
